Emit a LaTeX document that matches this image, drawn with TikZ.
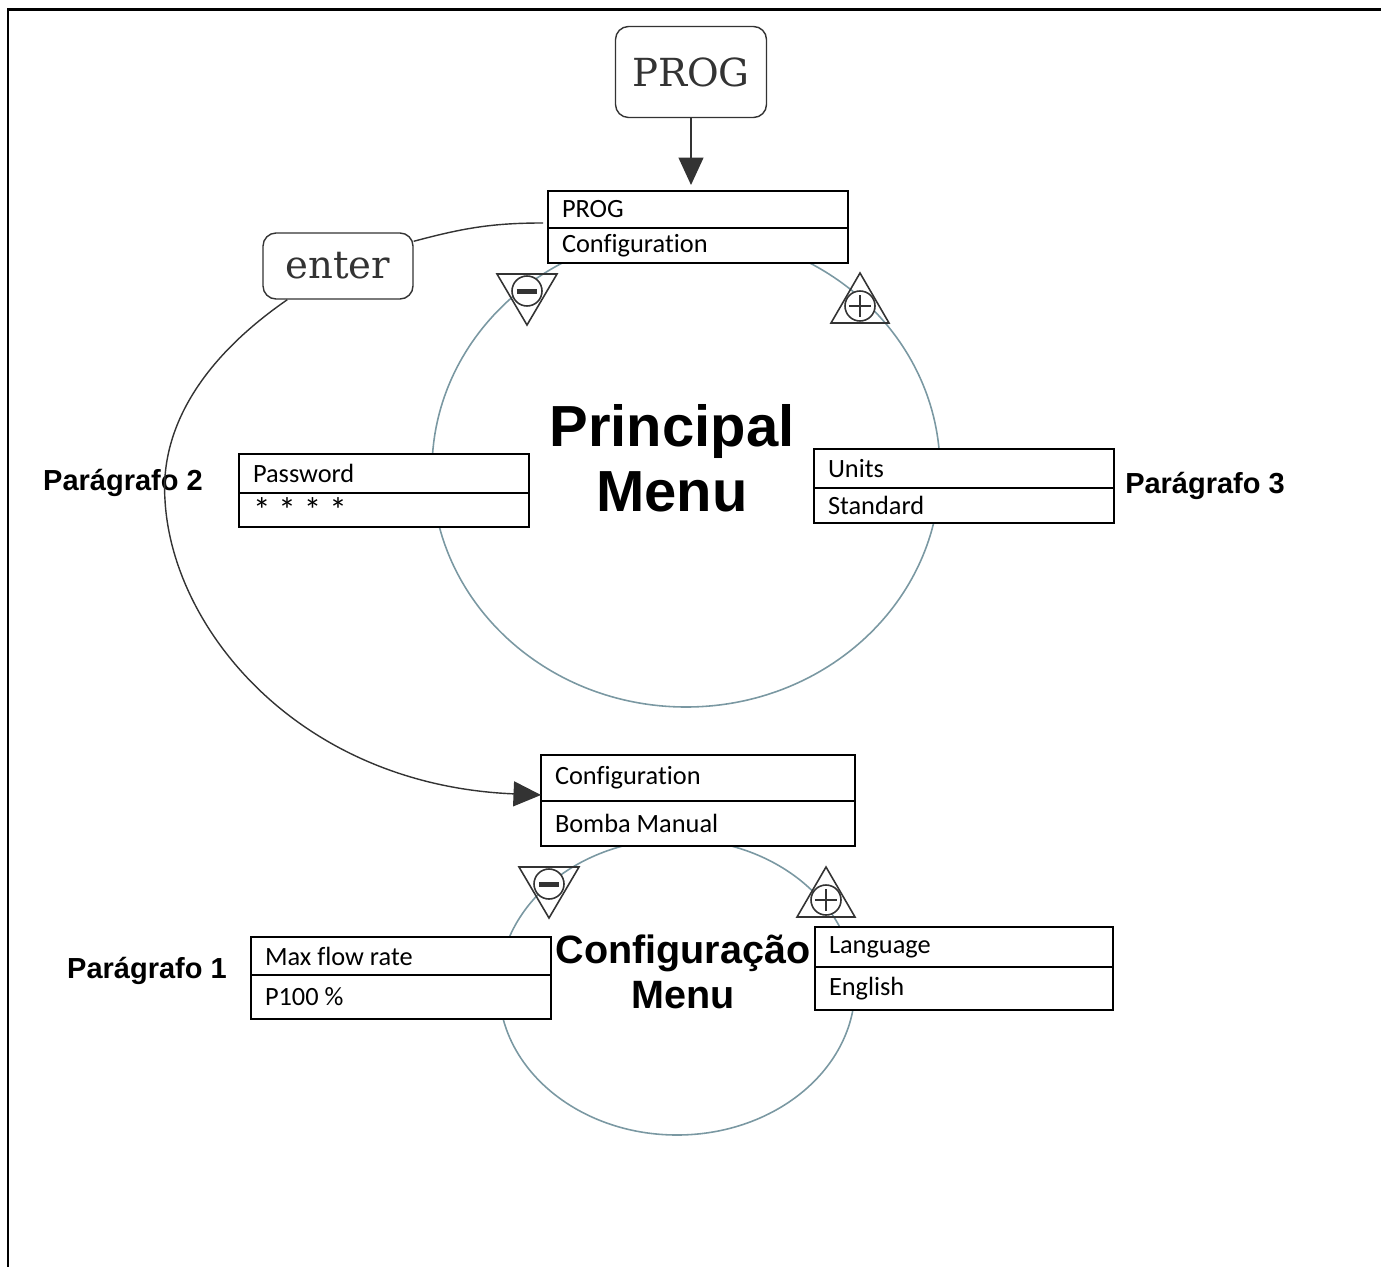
\documentclass[tikz,border=0pt]{standalone}
\usepackage{fontspec}
\setmainfont{Carlito}[Ligatures=NoCommon]
\newfontfamily\headfont{Liberation Sans}
\newfontfamily\keyfont{DejaVu Serif}
\usepackage{xcolor}
\usetikzlibrary{arrows.meta,positioning}

\definecolor{ringblue}{HTML}{7A98A2}
\definecolor{keygrey}{HTML}{333333}

\tikzset{
    symline/.style={draw=keygrey, line width=0.9pt},
    minuskey/.pic={
        \draw[symline] (-30,-17) -- (30,-17) -- (0,34) -- cycle;
        \draw[symline, fill=white] (0,0) circle[radius=15];
        \fill[keygrey] (-10,-2.5) rectangle (10,2.5);
    },
    pluskey/.pic={
        \draw[symline] (-29,17) -- (29,17) -- (0,-33) -- cycle;
        \draw[symline, fill=white] (0,0) circle[radius=15];
        \draw[symline, line width=1.1pt] (-11,0) -- (11,0) (0,-11) -- (0,11);
    }
}

\begin{document}
\begin{tikzpicture}[
    x=0.02cm, y=-0.02cm,
    cell/.style={rectangle, draw, line width=1.3pt, anchor=north west, outer sep=0pt, inner xsep=0.28cm, inner ysep=0pt, align=flush left, fill=white, font=\fontsize{15}{18}\selectfont, execute at begin node={\spaceskip=0pt\relax\xspaceskip=0pt\relax}},
    keybox/.style={rectangle, draw=keygrey, line width=0.8pt, rounded corners=0.26cm, text=keygrey, font=\keyfont\fontsize{22}{26}\selectfont},
    ringline/.style={draw=ringblue, line width=0.9pt},
    menutitle/.style={align=center, font=\headfont\bfseries\fontsize{33}{37}\selectfont},
    paralabel/.style={font=\headfont\bfseries\fontsize{16.5}{20}\selectfont},
    linkline/.style={draw=keygrey, line width=0.8pt},
    arrow/.style={linkline, -{Triangle[length=0.55cm, width=0.5cm]}}
]
\useasboundingbox (0,0) rectangle (1381,1267);
\draw[line width=0.06cm] (1381,10) -- (8,10) -- (8,1267);

\draw[ringline] (686,470) ellipse [x radius=254, y radius=237];
\draw[ringline] (677,987) ellipse [x radius=178, y radius=148];

\pic at (527,291) {minuskey};
\pic at (860,306) {pluskey};
\pic at (549,884) {minuskey};
\pic at (826,900) {pluskey};

\node[keybox, minimum width=3.02cm, minimum height=1.82cm] (progkey) at (691,72) {PROG};
\node[keybox, minimum width=3cm, minimum height=1.32cm] (enterkey) at (338,266) {enter};

\node[cell, text width=5.44cm, minimum height=0.74cm] (prog1) at (548,191) {PROG};
\node[cell, text width=5.44cm, minimum height=0.7cm, below=0pt of prog1] (prog2) {Configuration};

\node[cell, text width=5.24cm, minimum height=0.78cm] (pass1) at (239,454) {Password};
\node[cell, text width=5.24cm, minimum height=0.68cm, below=0pt of pass1] (pass2) {\fontsize{20}{20}\selectfont * * * *};

\node[cell, text width=5.44cm, minimum height=0.78cm] (units1) at (814,449) {Units};
\node[cell, text width=5.44cm, minimum height=0.7cm, below=0pt of units1] (units2) {Standard};

\node[cell, text width=5.72cm, minimum height=0.92cm] (cfg1) at (541,755) {Configuration};
\node[cell, text width=5.72cm, minimum height=0.9cm, below=0pt of cfg1] (cfg2) {Bomba Manual};

\node[cell, text width=5.44cm, minimum height=0.76cm] (flow1) at (251,937) {Max flow rate};
\node[cell, text width=5.44cm, minimum height=0.88cm, below=0pt of flow1] (flow2) {P100 \%};

\node[cell, text width=5.4cm, minimum height=0.8cm] (lang1) at (815,927) {Language};
\node[cell, text width=5.4cm, minimum height=0.86cm, below=0pt of lang1] (lang2) {English};

\node[menutitle] (principal) at (672,458) {Principal\\Menu};
\node[menutitle, font=\headfont\bfseries\fontsize{22.5}{25.6}\selectfont] (configmenu) at (683,972) {Configuração\\Menu};

\node[paralabel] (par2) at (123,483) {Parágrafo 2};
\node[paralabel] (par3) at (1205,486) {Parágrafo 3};
\node[paralabel] (par1) at (147,971) {Parágrafo 1};

\coordinate (swing) at (165,500);

\draw[arrow, shorten >=0.12cm] (progkey.south) -- (progkey.south |- prog1.north);
\draw[linkline] ([xshift=-0.1cm, yshift=0.1cm]prog1.south west) to[out=180, in=15] ([yshift=-0.18cm]enterkey.north east);
\draw[arrow] ([xshift=0.5cm]enterkey.south west) .. controls (200,360) and (160,430) .. (swing)
    .. controls (172,630) and (300,785) .. ([yshift=0.12cm]cfg1.south west);
\end{tikzpicture}
\end{document}
